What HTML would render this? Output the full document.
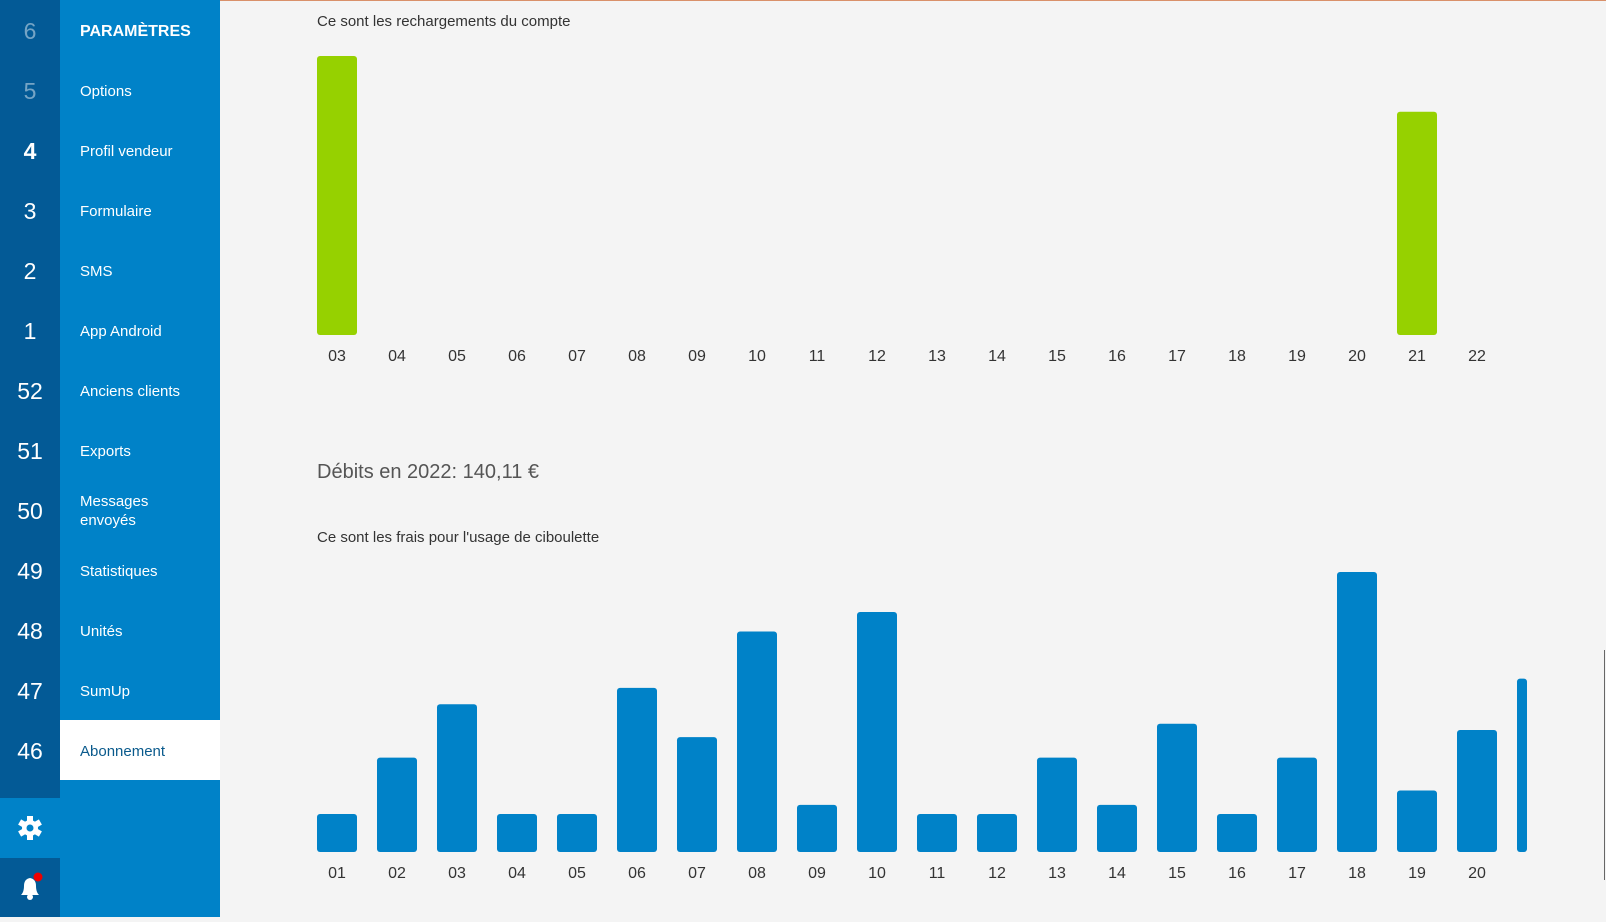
<!DOCTYPE html>
<html><head><meta charset="utf-8"><style>
body{margin:0;width:1606px;height:917px;overflow:hidden;background:#f4f4f4;font-family:"Liberation Sans",sans-serif;position:relative}
.dark{position:absolute;left:0;top:0;width:60px;height:917px;background:#035a96}
.num{position:absolute;left:0;width:60px;text-align:center;color:#fff;font-size:23px;height:60px;line-height:62px}
.panel{position:absolute;left:60px;top:0;width:160px;height:917px;background:#0082c8}
.item{position:absolute;left:60px;width:160px;height:60px;color:#fff;font-size:15px;display:flex;align-items:center;padding-left:20px;padding-top:2px;box-sizing:border-box;line-height:19px}
.t{position:absolute;color:#333;font-size:15px}
</style></head><body>
<div style="position:absolute;left:220px;top:0;width:1386px;height:1px;background:#d9906a"></div>
<div class="dark"></div>
<div class="panel"></div>
<div id="nav"></div>
<div style="position:absolute;left:0;top:798px;width:60px;height:60px;background:#0082c8">
<svg width="60" height="60" viewBox="0 0 60 60"><g fill="#fff" transform="translate(30,30)"><circle r="8"/><g id="tth"><rect x="-3" y="-12" width="6" height="6"/></g><use href="#tth" transform="rotate(60)"/><use href="#tth" transform="rotate(120)"/><use href="#tth" transform="rotate(180)"/><use href="#tth" transform="rotate(240)"/><use href="#tth" transform="rotate(300)"/></g><circle cx="30" cy="30" r="3.5" fill="#0082c8"/></svg></div>
<div style="position:absolute;left:0;top:858px;width:60px;height:59px">
<svg width="60" height="59"><path d="M21 37 Q24 34 24 28 Q24 21 30 20 Q36 21 36 28 Q36 34 39 37 Z" fill="#fff"/><circle cx="30" cy="39" r="3" fill="#fff"/><circle cx="38" cy="19" r="4.5" fill="#e00"/></svg></div>
<div class="t" style="left:317px;top:13px">Ce sont les rechargements du compte</div>
<div class="t" style="left:317px;top:461px;font-size:20px;color:#555">Débits en 2022: 140,11 €</div>
<div class="t" style="left:317px;top:529px">Ce sont les frais pour l'usage de ciboulette</div>
<div style="position:absolute;left:1604px;top:650px;width:1px;height:230px;background:#666"></div>
<svg id="c1" style="position:absolute;left:0;top:0" width="1606" height="917"></svg>
<script>
const navNums=["6","5","4","3","2","1","52","51","50","49","48","47","46"];
const navLabels=["PARAMÈTRES","Options","Profil vendeur","Formulaire","SMS","App Android","Anciens clients","Exports","Messages<br>envoyés","Statistiques","Unités","SumUp","Abonnement"];
const nav=document.getElementById('nav');
navNums.forEach((n,i)=>{
 const d=document.createElement('div');d.className='num';d.style.top=(i*60)+'px';d.textContent=n;
 if(i<2)d.style.opacity='0.45'; if(i==2)d.style.fontWeight='bold';
 
 
 nav.appendChild(d);
 const m=document.createElement('div');m.className='item';m.style.top=(i*60)+'px';m.innerHTML=navLabels[i];
 if(i==0){m.style.fontWeight='bold';m.style.fontSize='16px';}
 if(i==12){m.style.background='#fff';m.style.color='#0a5a8c';}
 
 
 nav.appendChild(m);
});
const topCats=["03","04","05","06","07","08","09","10","11","12","13","14","15","16","17","18","19","20","21","22"];
const topVals=[100,0,0,0,0,0,0,0,0,0,0,0,0,0,0,0,0,0,80,0];
const botCats=["01","02","03","04","05","06","07","08","09","10","11","12","13","14","15","16","17","18","19","20","21"];
const botVals=[37,92,144,37,37,160,112,215,46,234,37,37,92,46,125,37,92,273,60,119,169];
const svg=document.getElementById('c1');const NS='http://www.w3.org/2000/svg';
function chart(cats,vals,x0,base,hMax,vMax,color,name,clipX){
 const x=i=>x0+i*60, y=v=>base-v/vMax*hMax;
 cats.forEach((c,i)=>{
  if(vals[i]>0){
   const r=document.createElementNS(NS,'rect');
   let w=40; if(x(i)+w>clipX)w=clipX-x(i);
   r.setAttribute('x',x(i));r.setAttribute('y',y(vals[i]));r.setAttribute('width',w);
   r.setAttribute('height',base-y(vals[i]));r.setAttribute('rx',3);r.setAttribute('fill',color);
   
   
   svg.appendChild(r);
  }
  if(x(i)+40<=clipX){
  const t=document.createElementNS(NS,'text');
  t.setAttribute('x',x(i)+20);t.setAttribute('y',base+26);t.setAttribute('text-anchor','middle');
  t.setAttribute('font-size','16');t.setAttribute('fill','#333');t.setAttribute('font-family','Liberation Sans, sans-serif');
  t.textContent=c;
  
  
  svg.appendChild(t);}
 });
}
chart(topCats,topVals,317,335,279,100,'#96d100','recharge',1606);
chart(botCats,botVals,317,852,280,273,'#0082c8','fees',1527);
</script>
</body></html>
